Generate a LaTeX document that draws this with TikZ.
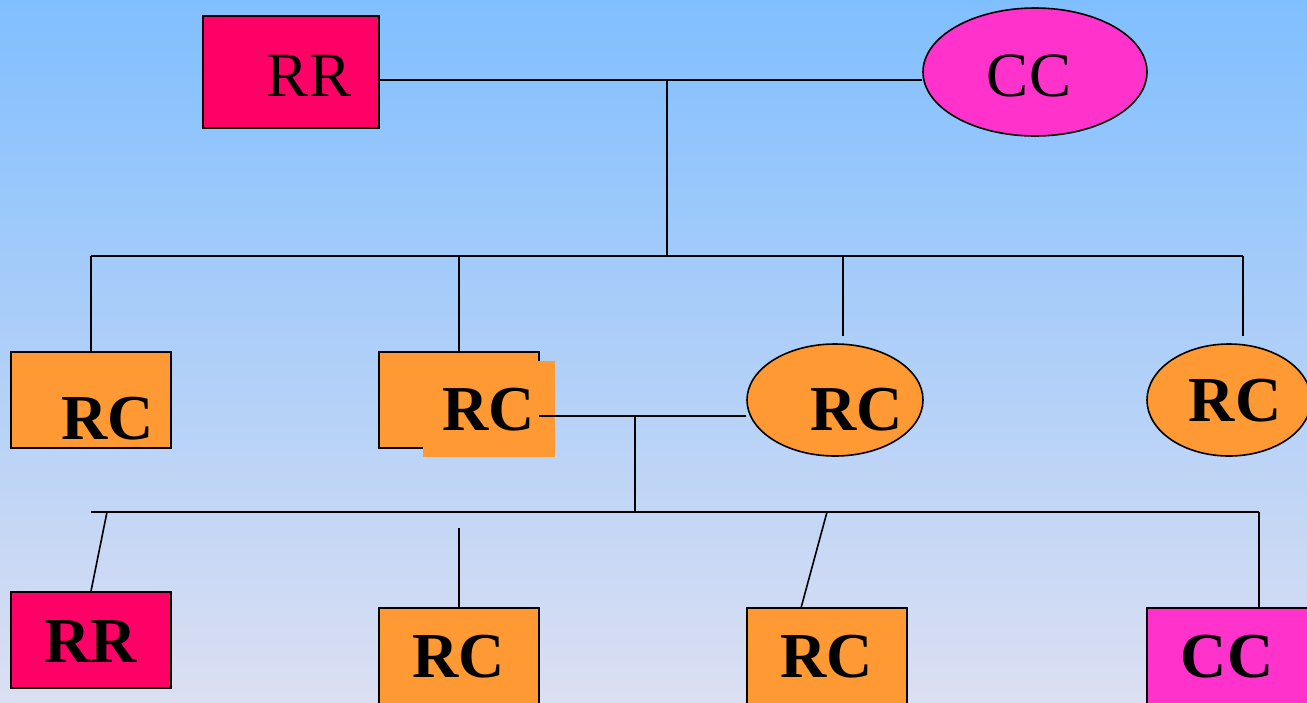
\documentclass[tikz,border=0pt]{standalone}
\usepackage{fontspec}
\setmainfont{Liberation Serif}
\usetikzlibrary{shapes.geometric}
\definecolor{rrcol}{HTML}{FF0066}
\definecolor{cccol}{HTML}{FF33CC}
\definecolor{rccol}{HTML}{FF9933}
\definecolor{bgtop}{HTML}{80BFFF}
\definecolor{bgbot}{HTML}{DCDFF2}
\tikzset{
  wire/.style={draw=black, line width=1.6pt},
  rbox/.style={draw=black, line width=1.6pt, rectangle, inner sep=0pt},
  ebox/.style={draw=black, line width=1.6pt, ellipse, inner sep=0pt},
  lbl/.style={inner sep=0pt, font=\fontsize{63}{63}\selectfont},
  blbl/.style={inner sep=0pt, font=\fontsize{64}{64}\selectfont\bfseries}
}
\begin{document}
\begin{tikzpicture}[x=1pt,y=-1pt]
\useasboundingbox (0,0) rectangle (1307,702);
\clip (0,0) rectangle (1307,702);
\shade[top color=bgtop, bottom color=bgbot] (0,0) rectangle (1307,702);
% top level
\node[rbox, fill=rrcol, minimum width=176pt, minimum height=112pt] (rr1) at (291,72) {};
\node[ebox, fill=cccol, minimum width=224pt, minimum height=128pt] (cc1) at (1035,72) {};
\node[lbl] at (309,76) {RR};
\node[lbl] at (1029,76) {CC};
\coordinate (j1) at (667,80);
\coordinate (j2) at (667,256);
\draw[wire] (rr1.east |- j1) -- (cc1.west |- j1);
\draw[wire] (j1) -- (j2);
% second bus
\coordinate (b2l) at (91,256);
\coordinate (b2r) at (1243,256);
\draw[wire] (b2l) -- (b2r);
% second level
\node[rbox, fill=rccol, minimum width=160pt, minimum height=96pt] (rc1) at (91,400) {};
\node[rbox, fill=rccol, minimum width=160pt, minimum height=96pt] (rc2) at (459,400) {};
\fill[rccol] (423,361) rectangle (555,457);
\node[ebox, fill=rccol, minimum width=176pt, minimum height=112pt] (rc3) at (835,400) {};
\node[ebox, fill=rccol, minimum width=164pt, minimum height=112pt] (rc4) at (1229,400) {};
\coordinate (t3) at (843,336);
\coordinate (t4) at (1243,336);
\draw[wire] (b2l) -- (rc1.north);
\draw[wire] (rc2.north |- b2l) -- (rc2.north);
\draw[wire] (t3 |- b2l) -- (t3);
\draw[wire] (b2r) -- (t4);
\coordinate (h1) at (539,416);
\coordinate (j3) at (635,416);
\coordinate (j4) at (635,512);
\draw[wire] (h1) -- (rc3.west |- h1);
\draw[wire] (j3) -- (j4);
\node[blbl] at (108,419) {RC};
\node[blbl] at (489,410) {RC};
\node[blbl] at (857,410) {RC};
\node[blbl] at (1235,401) {RC};
% third bus
\coordinate (b3l) at (91,512);
\coordinate (b3r) at (1259,512);
\draw[wire] (b3l) -- (b3r);
% third level
\node[rbox, fill=rrcol, minimum width=160pt, minimum height=96pt] (rr2) at (91,640) {};
\node[rbox, fill=rccol, minimum width=160pt, minimum height=112pt] (rc5) at (459,664) {};
\node[rbox, fill=rccol, minimum width=160pt, minimum height=112pt] (rc6) at (827,664) {};
\node[rbox, fill=cccol, minimum width=176pt, minimum height=112pt] (cc2) at (1235,664) {};
\coordinate (k1) at (107,512);
\coordinate (k2) at (459,528);
\coordinate (k3) at (827,512);
\coordinate (k4) at (801,608);
\draw[wire] (k1) -- (rr2.north);
\draw[wire] (k2) -- (rc5.north);
\draw[wire] (k3) -- (k4);
\draw[wire] (b3r) -- (b3r |- cc2.north);
\node[blbl] at (91,642) {RR};
\node[blbl] at (459,657) {RC};
\node[blbl] at (827,657) {RC};
\node[blbl] at (1227,657) {CC};
\end{tikzpicture}
\end{document}
